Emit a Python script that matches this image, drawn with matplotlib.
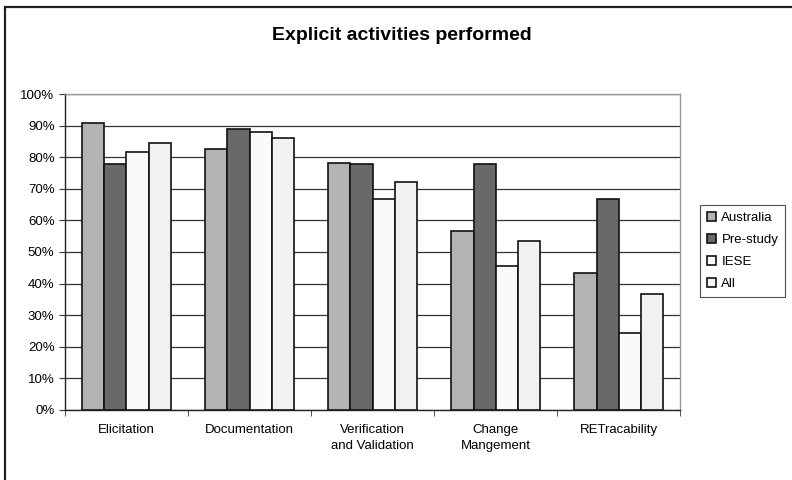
import numpy as np
import matplotlib.pyplot as plt
from matplotlib.patches import Rectangle
from matplotlib.ticker import FuncFormatter

# data
#______________________________________________________________________________
categories = ["Elicitation", "Documentation", "Verification\nand Validation",
              "Change\nMangement", "RETracability"]
series     = ["Australia", "Pre-study", "IESE", "All"]

australia  = [91.0, 82.6, 78.3, 56.5, 43.5]
prestudy   = [77.8, 88.9, 77.8, 77.8, 66.7]
iese       = [81.8, 87.9, 66.7, 45.5, 24.2]
all_       = [84.5, 86.1, 72.2, 53.6, 36.8]

colors     = ["#b3b3b3", "#69696b", "#fafafa", "#f0f2f0"]

plt.rcParams["font.family"] = ["Liberation Sans", "DejaVu Sans"]

# figure
#______________________________________________________________________________
fig = plt.figure(figsize=(7.92, 4.80), dpi=100)
ax  = fig.add_axes([0.082, 0.146, 0.777, 0.658])

x     = np.arange(len(categories))
width = 0.18
for i, (vals, name) in enumerate(zip([australia, prestudy, iese, all_], series)):
    ax.bar(x + (i - 1.5) * width, vals, width,
           color=colors[i], edgecolor="#111111", linewidth=1.2,
           label=name, zorder=3)

# axes styling
#______________________________________________________________________________
ax.set_xlim(-0.5, len(categories) - 0.5)
ax.set_ylim(0, 100)
ax.set_yticks(np.arange(0, 101, 10))
ax.yaxis.set_major_formatter(FuncFormatter(lambda v, p: "%d%%" % v))
ax.grid(axis="y", color="#333333", linewidth=0.9, zorder=0)

ax.set_xticks(x)
ax.set_xticklabels(categories, fontsize=9.5, linespacing=1.45)
ax.set_xticks(np.arange(-0.5, len(categories)), minor=True)
ax.tick_params(axis="x", which="major", length=0, pad=10)
ax.tick_params(axis="x", which="minor", length=4, color="#333333")
ax.tick_params(axis="y", length=4, labelsize=9.5, color="#333333")

ax.spines["left"].set_color("#222222")
ax.spines["bottom"].set_color("#222222")
ax.spines["top"].set_color("#999999")
ax.spines["right"].set_color("#999999")
for s in ax.spines.values():
    s.set_linewidth(1.0)

fig.text(0.507, 0.927, "Explicit activities performed",
         ha="center", va="center", fontsize=14, fontweight="bold")

leg = ax.legend(loc="center left", bbox_to_anchor=(1.0325, 0.503),
                fontsize=9.5, frameon=True, fancybox=False,
                handlelength=0.7, handleheight=0.7, handletextpad=0.4,
                labelspacing=0.75, borderpad=0.5, borderaxespad=0)
leg.get_frame().set_edgecolor("#222222")
leg.get_frame().set_linewidth(0.8)

# chart frame, only its top and left edges fall inside the image
fig.patches.append(Rectangle((0.0063, -0.05), 1.1, 1.035,
                             transform=fig.transFigure, fill=False,
                             edgecolor="#222222", linewidth=1.6))

fig.savefig("out.png", dpi=100)
